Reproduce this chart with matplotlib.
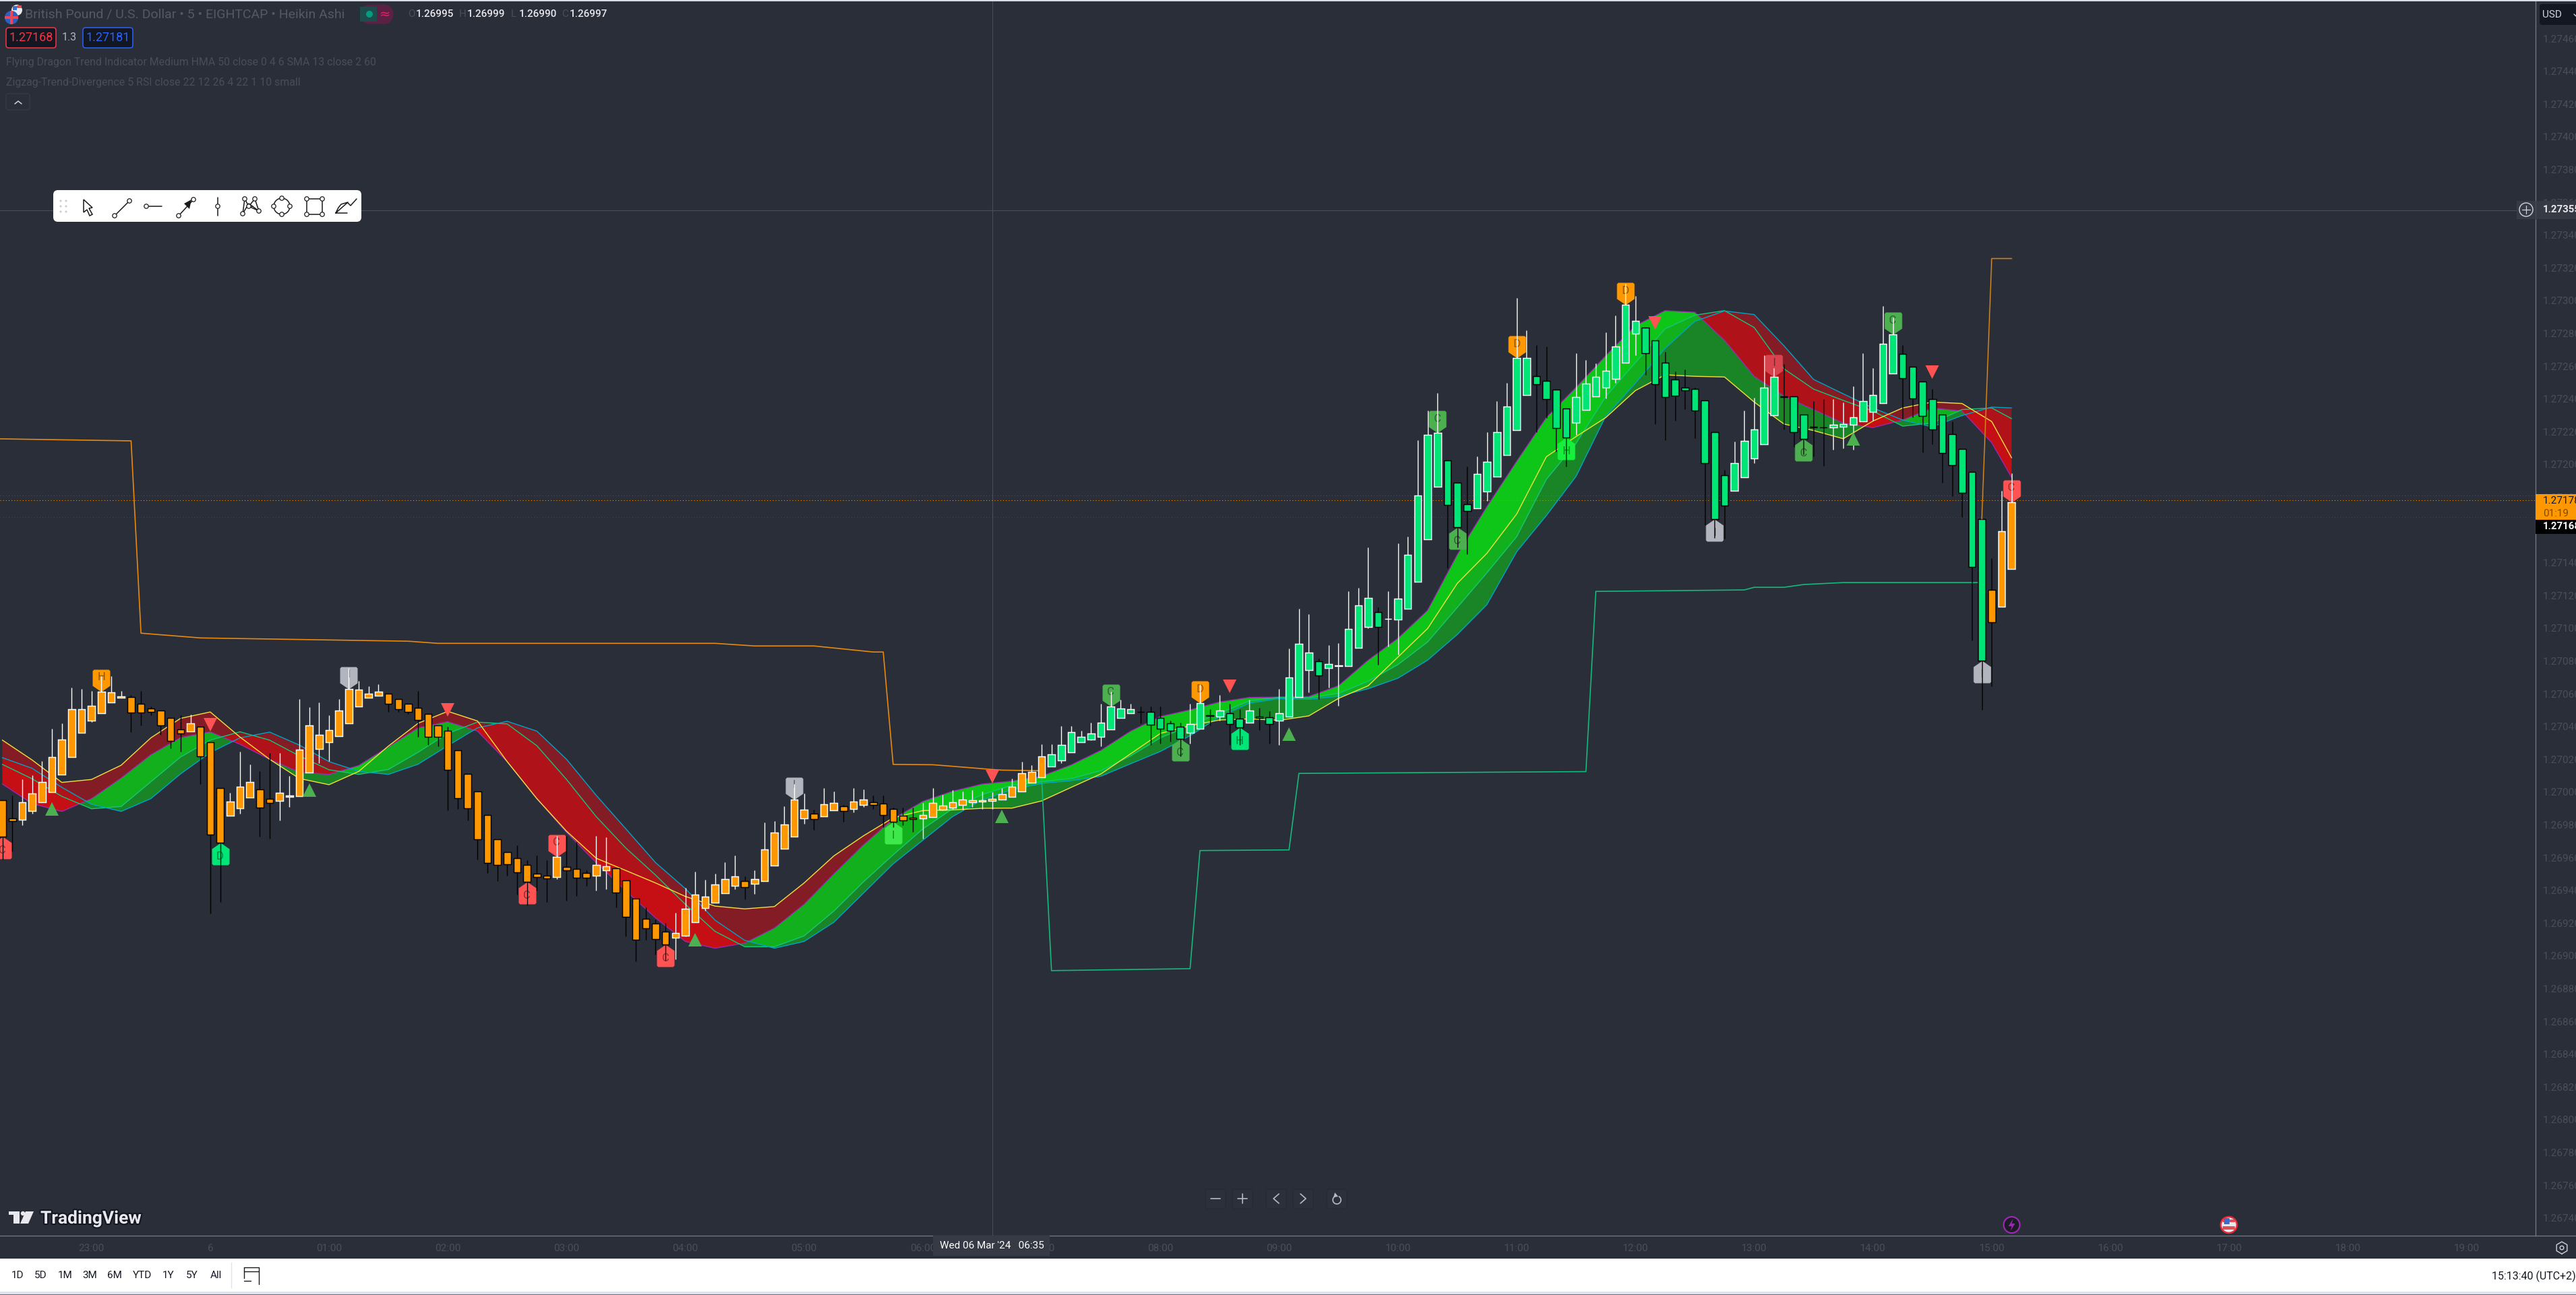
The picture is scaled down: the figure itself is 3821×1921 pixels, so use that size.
"""
GBP/USD 5 min Heikin Ashi chart with trend cloud and zigzag lines, dark theme.
"""
import numpy as np
import matplotlib
matplotlib.use("Agg")
import matplotlib.pyplot as plt
from matplotlib.patches import Rectangle, FancyBboxPatch, Circle, Polygon
from matplotlib.path import Path
import matplotlib.patheffects as pe

plt.rcParams["font.family"] = ["Roboto", "DejaVu Sans"]

BG = "#2a2e39"
DIM = "#4a4e5a"
AXIS_LINE = "#787b86"
W, H = 3821, 1921

# all series are in points (0.00001) above 1.27000
BASE = 1.27

open_pts = [
    -4.8, -16.0, -16.8, -11.4, -6.1, 0.1, 10.8, 21.5, 36.4, 43.4,
    48.3, 54.9, 57.8, 58.2, 53.7, 51.2, 49.9, 45.4, 38.4, 37.2,
    39.7, 30.6, 2.6, -14.3, -9.8, -3.2, 1.8, -4.0, -5.2, -2.8,
    -2.4, 12.1, 26.5, 30.6, 34.3, 42.1, 52.4, 57.8, 59.0, 60.2,
    56.9, 53.7, 51.6, 47.9, 40.9, 37.6, 25.6, 11.2, 0.5, -13.9,
    -28.7, -36.5, -40.3, -44.4, -49.7, -51.0, -51.8, -45.6, -46.8, -49.3,
    -51.0, -47.7, -46.4, -53.9, -65.0, -77.3, -80.2, -85.2, -88.9, -87.6,
    -79.4, -70.7, -67.4, -61.7, -57.1, -54.3, -55.9, -54.3, -44.8, -34.5,
    -27.1, -16.0, -13.1, -14.7, -11.0, -8.5, -10.2, -7.7, -6.1, -6.9,
    -10.2, -14.3, -15.5, -16.0, -15.1, -10.6, -9.4, -7.7, -6.1, -5.7,
    -5.2, -4.4, -2.8, 0.5, 5.9, 9.2, 15.8, 19.5, 24.4, 30.6,
    32.2, 33.9, 38.4, 45.4, 48.3, 49.1, 49.1, 45.4, 42.1, 40.1,
    36.4, 38.8, 46.7, 46.2, 48.3, 45.0, 42.5, 46.2, 45.8, 43.8,
    46.1, 58.1, 74.6, 80.0, 75.7, 77.1, 77.0, 88.1, 101.0, 110.0,
    105.8, 105.4, 112.0, 128.2, 154.4, 186.3, 202.6, 188.7, 175.6, 173.4,
    183.7, 192.7, 205.9, 220.8, 242.5, 253.8, 251.2, 245.5, 234.1, 225.3,
    233.2, 241.4, 247.1, 252.1, 262.0, 279.7, 283.4, 275.6, 262.0, 251.7,
    246.8, 246.0, 239.2, 219.9, 193.3, 184.0, 192.3, 203.6, 212.2, 229.9,
    241.4, 241.4, 230.6, 223.2, 222.7, 222.5, 223.2, 224.2, 226.2, 232.2,
    237.4, 255.4, 267.4, 259.8, 250.5, 239.8, 230.6, 218.6, 209.3, 195.6,
    166.8, 123.6, 113.3, 136.4,
]
close_pts = [
    -27.1, -17.6, -6.1, -0.7, 6.3, 21.5, 32.2, 50.8, 50.8, 52.8,
    61.5, 60.7, 58.6, 48.7, 48.7, 49.1, 40.9, 31.4, 35.9, 42.1,
    21.9, -25.8, -30.8, -5.7, 3.4, 6.3, -9.4, -6.5, -0.3, -1.9,
    26.1, 40.9, 35.1, 38.0, 49.9, 63.1, 62.7, 60.2, 61.5, 53.7,
    50.4, 49.1, 44.2, 33.9, 33.9, 13.7, -3.6, -9.8, -28.7, -43.1,
    -44.4, -44.0, -48.9, -54.7, -51.8, -52.6, -39.4, -47.7, -52.2, -52.2,
    -44.4, -45.2, -61.3, -76.1, -90.1, -83.1, -89.7, -93.0, -86.0, -71.2,
    -62.5, -63.7, -56.3, -53.0, -51.4, -58.0, -53.0, -34.9, -24.6, -19.7,
    -4.4, -10.6, -16.4, -7.3, -6.5, -11.4, -5.7, -4.4, -7.7, -13.9,
    -18.0, -17.2, -16.4, -13.9, -6.5, -8.1, -6.1, -4.4, -4.8, -4.8,
    -4.0, -1.1, 3.4, 11.6, 12.5, 21.9, 23.2, 28.9, 36.8, 33.9,
    35.9, 42.5, 52.4, 51.2, 50.4, 49.0, 41.3, 38.8, 37.6, 32.6,
    41.7, 54.1, 46.5, 49.9, 41.7, 39.6, 49.9, 45.4, 41.7, 48.3,
    70.0, 90.6, 85.3, 71.3, 78.3, 77.2, 99.7, 113.8, 118.6, 101.0,
    105.9, 118.2, 144.7, 180.9, 217.9, 219.2, 175.1, 161.8, 171.4, 194.2,
    201.5, 219.6, 235.2, 264.8, 264.8, 248.8, 239.8, 222.0, 216.6, 241.1,
    249.5, 253.4, 257.1, 272.0, 297.5, 287.6, 267.7, 248.8, 241.1, 241.8,
    245.1, 232.8, 201.0, 166.6, 174.7, 201.0, 214.2, 221.2, 247.1, 253.4,
    241.3, 219.6, 215.5, 222.5, 222.5, 224.2, 224.5, 228.6, 238.5, 242.2,
    273.6, 279.3, 252.5, 240.5, 229.5, 221.2, 206.9, 199.7, 182.6, 137.5,
    80.3, 103.5, 159.1, 177.1,
]
high_pts = [
    -4.8, -2.2, 7.7, 10.4, 18.8, 38.5, 41.8, 63.7, 62.9, 61.6,
    70.8, 70.7, 61.6, 59.4, 61.6, 52.4, 49.9, 45.4, 46.7, 47.5,
    39.7, 30.6, 2.6, -0.6, 24.5, 16.7, 12.6, 23.7, 23.7, 9.7,
    56.7, 51.7, 54.6, 46.8, 56.7, 75.6, 67.8, 64.5, 65.7, 60.2,
    56.9, 53.7, 61.6, 47.9, 40.9, 39.8, 25.6, 11.2, 0.5, -13.9,
    -28.7, -36.5, -32.4, -41.5, -38.6, -41.5, -26.7, -26.7, -30.4, -47.7,
    -26.7, -27.5, -46.4, -53.9, -65.0, -70.3, -77.7, -79.8, -73.6, -58.4,
    -48.5, -53.4, -49.7, -42.7, -38.6, -51.4, -47.7, -18.4, -17.6, -8.5,
    4.9, -0.7, -10.6, 2.6, 0.5, -7.7, 2.6, 1.5, -2.2, -2.2,
    -9.4, -9.4, -9.4, -6.5, 2.6, -1.5, 1.3, 0.5, 1.3, 0.5,
    0.1, 2.6, 8.3, 18.6, 16.6, 29.4, 29.4, 40.5, 40.5, 37.6,
    42.5, 53.7, 61.2, 56.5, 53.7, 52.4, 52.4, 52.4, 43.4, 42.5,
    53.7, 65.7, 50.4, 59.4, 53.7, 50.4, 56.5, 51.6, 49.5, 62.9,
    87.5, 111.8, 108.5, 81.6, 89.5, 90.8, 122.6, 124.7, 149.5, 112.7,
    122.6, 151.9, 155.9, 214.8, 233.0, 243.6, 202.6, 188.7, 198.8, 205.0,
    219.7, 238.7, 249.9, 301.8, 281.9, 272.7, 272.1, 245.5, 234.1, 267.9,
    263.9, 261.8, 280.8, 291.1, 310.4, 303.0, 283.4, 275.6, 268.8, 256.9,
    258.2, 246.8, 239.2, 219.9, 196.8, 214.0, 233.0, 240.7, 266.8, 258.9,
    261.1, 241.4, 230.6, 238.7, 239.8, 240.0, 238.0, 247.9, 267.9, 258.9,
    296.8, 289.8, 272.9, 259.8, 250.5, 245.9, 230.6, 226.2, 209.3, 195.6,
    166.8, 142.7, 183.9, 194.7,
]
low_pts = [
    -41.1, -36.3, -20.2, -13.2, -6.1, 0.1, 10.8, 21.5, 36.4, 42.7,
    48.3, 54.9, 57.8, 36.6, 40.7, 46.9, 35.0, 26.7, 24.7, 37.2,
    4.9, -74.0, -67.2, -14.3, -13.2, -3.2, -27.1, -28.3, -17.3, -9.1,
    -2.4, 12.1, 17.8, 18.9, 34.3, 42.1, 52.4, 57.8, 59.0, 49.0,
    49.0, 47.8, 33.7, 28.8, 28.0, -11.2, -10.3, -17.3, -41.1, -49.5,
    -54.4, -51.1, -62.4, -69.2, -60.0, -67.2, -53.0, -66.3, -63.5, -57.3,
    -60.2, -59.3, -70.5, -88.2, -103.3, -90.1, -99.2, -102.9, -102.2, -88.0,
    -79.4, -72.5, -67.4, -61.7, -59.3, -65.5, -62.2, -54.3, -44.8, -34.5,
    -27.1, -19.4, -23.0, -14.7, -11.0, -18.0, -12.4, -9.1, -10.3, -21.3,
    -21.3, -20.1, -24.3, -28.5, -15.1, -11.0, -10.2, -10.6, -9.1, -10.3,
    -10.2, -4.4, -2.8, 0.5, 5.9, 9.2, 15.8, 17.5, 24.4, 30.6,
    31.5, 28.0, 38.4, 45.4, 48.3, 42.0, 28.8, 29.6, 30.9, 21.8,
    29.6, 38.8, 40.7, 43.4, 28.8, 28.8, 42.5, 37.9, 29.6, 28.8,
    46.1, 58.1, 61.0, 56.8, 63.8, 52.8, 77.0, 88.1, 99.8, 77.8,
    88.8, 83.8, 112.0, 128.2, 154.4, 186.3, 136.8, 149.5, 145.1, 173.4,
    177.8, 192.7, 205.9, 220.8, 242.5, 219.9, 228.2, 208.0, 198.8, 217.9,
    233.2, 241.4, 240.2, 249.9, 262.0, 266.8, 254.9, 224.7, 215.0, 226.7,
    233.7, 215.9, 163.1, 155.0, 154.8, 184.0, 192.3, 200.8, 212.2, 229.9,
    221.2, 210.7, 206.0, 205.0, 199.0, 208.9, 210.0, 208.9, 226.2, 226.7,
    237.4, 255.4, 228.0, 228.8, 207.2, 212.2, 189.0, 180.6, 167.9, 92.7,
    50.0, 64.7, 113.3, 136.4,
]

# cloud lines, read every third bar
cloud_idx = list(range(0, 202, 3)) + [203]
yellow_pts = [
    31.7, 19.6, 5.9, 7.7, 16.4, 33.1, 45.0, 48.9, 33.6, 20.0,
    8.3, 4.5, 12.6, 28.1, 42.0, 49.3, 43.4, 18.6, -4.0, -23.9,
    -40.4, -47.9, -55.5, -63.7, -69.6, -71.3, -69.9, -55.5, -39.0, -26.7,
    -15.7, -11.3, -10.9, -9.9, -9.8, -5.4, 2.9, 11.1, 23.4, 35.8,
    40.6, 44.0, 44.7, 43.8, 46.5, 57.2, 64.9, 82.4, 99.8, 127.4,
    145.8, 169.7, 204.7, 217.0, 228.6, 245.1, 254.7, 253.8, 253.4, 238.1,
    224.7, 220.7, 215.7, 226.5, 234.5, 238.1, 237.2, 226.2, 204.1,
]
purple_pts = [
    4.9, -7.0, -11.8, -4.0, 8.6, 22.8, 33.3, 36.8, 29.2, 20.0,
    12.2, 10.8, 16.2, 27.6, 39.2, 43.0, 37.2, 18.6, -4.0, -24.6,
    -43.1, -60.3, -76.8, -91.2, -95.3, -92.2, -83.0, -68.5, -50.0, -32.2,
    -16.4, -5.7, 0.5, 4.9, 6.7, 9.7, 16.6, 25.5, 37.2, 46.1,
    50.2, 55.0, 57.8, 58.0, 58.3, 64.9, 80.5, 93.8, 110.9, 144.9,
    174.3, 201.9, 228.6, 247.0, 266.3, 284.7, 293.9, 292.9, 275.8, 253.8,
    241.8, 233.5, 225.3, 222.5, 227.1, 234.5, 232.6, 213.3, 192.2,
]
teal_pts = [
    16.9, 8.1, -2.6, -10.2, -8.8, 6.3, 21.4, 31.7, 36.8, 31.7,
    22.1, 13.6, 10.8, 13.8, 24.3, 35.8, 42.7, 41.6, 28.3, 7.7,
    -15.0, -34.2, -50.7, -68.5, -85.0, -94.4, -94.4, -87.8, -72.7, -54.8,
    -38.3, -22.5, -10.2, -1.5, 4.2, 6.3, 8.3, 13.1, 22.1, 33.1,
    40.6, 48.2, 55.7, 57.8, 57.5, 60.3, 67.7, 77.8, 91.6, 112.7,
    133.9, 155.9, 190.9, 212.9, 241.4, 262.2, 282.8, 291.1, 293.9, 283.6,
    258.4, 246.0, 239.1, 232.6, 223.4, 225.3, 233.5, 234.5, 228.0,
]
cyan_pts = [
    21.0, 14.5, 2.9, -7.4, -11.8, -4.0, 11.1, 24.1, 33.1, 36.6,
    28.7, 18.6, 12.7, 10.8, 17.0, 28.3, 39.2, 43.2, 37.2, 20.0,
    -2.0, -22.5, -43.1, -58.9, -78.2, -90.5, -95.3, -91.2, -79.5, -61.7,
    -43.8, -29.4, -15.0, -4.7, 1.5, 5.3, 7.0, 9.7, 17.3, 24.8,
    34.4, 46.1, 54.3, 57.1, 56.6, 58.5, 63.1, 69.5, 80.5, 96.2,
    114.5, 146.7, 168.8, 192.7, 229.5, 249.7, 270.9, 287.4, 293.7, 291.5,
    272.5, 251.9, 243.1, 234.5, 227.1, 222.9, 229.9, 235.0, 234.5,
]

# zigzag step lines
zig_orange_idx = [-1, 13, 14, 20, 41, 44, 72, 76, 82, 88, 89, 90, 94, 100, 101, 105]
zig_orange_pts = [215.7, 214.4, 97.0, 94.1, 92.1, 90.8, 90.8, 89.2, 89.2, 85.5, 85.5,
                  16.9, 16.7, 13.8, 13.4, 13.0]
zig_green_idx = [105, 106, 120, 121, 130, 131, 160, 161, 176, 177, 180, 182, 186, 200]
zig_green_pts = [9.0, -109.0, -107.8, -35.7, -35.3, 11.4, 12.5, 122.5, 123.4, 125.0,
                 125.0, 126.7, 127.9, 127.9]
zig_last_idx = [200, 201, 203]
zig_last_pts = [166.8, 325.7, 325.7]

# pivot labels
pin_idx = [0, 10, 22, 35, 53, 56, 67, 80, 90, 112, 119, 121, 125, 145, 147, 153,
           158, 164, 173, 179, 182, 191, 200, 203]
pin_above = [0, 1, 0, 1, 0, 1, 0, 1, 0, 1, 0, 1, 0, 1, 0, 1, 0, 1, 0, 1, 0, 1, 0, 1]
pin_text = ["C", "H", "D", "I", "C", "C", "C", "I", "I", "C", "C", "D", "H", "C",
            "C", "D", "H", "D", "I", "I", "C", "C", "I", "C"]
pin_color = ["#ff5252", "#ff9800", "#00e676", "#b2b5be", "#ff5252", "#ff5252", "#ff5252",
             "#b2b5be", "#3fe84a", "#4caf50", "#4caf50", "#ff9800", "#00e676", "#4caf50",
             "#4caf50", "#ff9800", "#14f03c", "#ff9800", "#b2b5be", "#d9434e", "#4caf50",
             "#4caf50", "#b2b5be", "#ff5252"]

# trend flip triangles
tri_down_idx = [21, 45, 100, 124, 167, 195]
tri_down_pts = [41.3, 50.2, 9.3, 64.4, 286.3, 256.5]
tri_up_idx = [5, 31, 70, 101, 130, 187]
tri_up_pts = [-10.2, 1.3, -90.0, -15.0, 35.5, 215.7]

# axis labels
price_ticks = [round(1.2674 + 0.0002 * k, 4) for k in range(37)]
time_ticks = [9, 21] + [33 + 12 * k for k in range(19)]
time_labels = ["23:00", "6"] + [f"{h:02d}:00" for h in range(1, 20)]

GREEN = "#0cdc15"
RED = "#dc0c10"


def price(pts):
    return BASE + np.asarray(pts, dtype=float) * 1e-5


def pin_path():
    # tip at the origin, label body above it (units are pixels)
    verts = [(0, 0), (-13, 9), (-13, 31), (-11, 33), (11, 33), (13, 31), (13, 9), (0, 0)]
    return Path(verts, closed=True)


def draw_candles(ax, o, c, hi, lo):
    idx = np.arange(len(o))
    up = c > o
    fills = ["#00e676" if 106 <= i <= 200 else "#ff9800" for i in idx]
    edges = ["white" if u else "black" for u in up]
    ax.vlines(idx, lo, hi, colors=edges, linewidth=1.0, zorder=4)
    ax.bar(idx, np.maximum(np.abs(c - o), 1e-6), bottom=np.minimum(o, c), width=0.72,
           color=fills, edgecolor=edges, linewidth=1.05, zorder=5)


def draw_cloud(ax):
    x = np.array(cloud_idx, dtype=float)
    yl, pu, te, cy = map(price, (yellow_pts, purple_pts, teal_pts, cyan_pts))
    for top, other in ((pu, te), (pu, cy), (pu, yl)):
        ax.fill_between(x, top, other, where=top >= other, interpolate=True,
                        color=GREEN, alpha=0.5, linewidth=0, zorder=2)
        ax.fill_between(x, top, other, where=top <= other, interpolate=True,
                        color=RED, alpha=0.5, linewidth=0, zorder=2)
    ax.plot(x, pu, color="#9c27b0", lw=1.0, zorder=3)
    ax.plot(x, te, color="#12c87a", lw=1.0, zorder=3)
    ax.plot(x, cy, color="#00a5c8", lw=1.0, zorder=3)
    ax.plot(x, yl, color="#f5e13c", lw=1.0, zorder=3)


def draw_pins(ax, o, c):
    base = pin_path()
    flipped = Path(base.vertices * [1, -1], closed=True)
    for i, above, label, col in zip(pin_idx, pin_above, pin_text, pin_color):
        tip = max(o[i], c[i]) if above else min(o[i], c[i])
        ax.plot([i], [tip], marker=base if above else flipped, ms=2 * 33 * 0.72,
                color=col, mew=0, ls="none", zorder=3.5)
        ax.annotate(label, xy=(i, tip), xytext=(0, 15 if above else -15),
                    textcoords="offset points", ha="center", va="center",
                    fontsize=12, color="#00000070", zorder=3.6)


def chrome(ov):
    """Screen furniture drawn in pixel coordinates on a top overlay."""
    def rect(x0, y0, x1, y1, col, z=1):
        ov.add_patch(Rectangle((x0, y0), x1 - x0, y1 - y0, fc=col, ec="none", zorder=z))

    def line(xs, ys, col="#1a1a1a", lw=1.1, z=6):
        ov.plot(xs, ys, color=col, lw=lw, zorder=z, solid_capstyle="round")

    def dot(x, y, r=3.2, fc="white", ec="#1a1a1a", lw=0.9, z=7):
        ov.add_patch(Circle((x, y), r, fc=fc, ec=ec, lw=lw, zorder=z))

    # page edges and bottom toolbar
    rect(0, 0, W, 2, "#d8dbe3")
    rect(0, 1867, W, 1916, "white")
    rect(0, 1916, W, 1920, "#e0e3eb")
    rect(0, 1920, W, H, "#6a6d78")
    ov.plot([3761, W], [1833, 1833], color=AXIS_LINE, lw=0.9, zorder=2)
    range_names = ["1D", "5D", "1M", "3M", "6M", "YTD", "1Y", "5Y", "All"]
    range_x = [26, 60, 97, 133, 170, 211, 250, 285, 320]
    for name, x in zip(range_names, range_x):
        ov.text(x, 1892, name, ha="center", va="center", fontsize=11, color="#131722")
    ov.plot([343, 343], [1873, 1910], color="#e0e3eb", lw=1)
    line([362, 384, 384], [1880, 1880, 1905], lw=1)
    line([362, 362], [1880, 1896], lw=1)
    line([362, 384], [1886, 1886], lw=1)
    line([362, 372], [1900, 1900], lw=1)
    ov.text(3821, 1893, "15:13:40 (UTC+2)", ha="right", va="center", fontsize=11.5,
            color="#131722")

    # legend block, top left
    ov.add_patch(Circle((25, 15), 8, fc="#e8e8ee", ec="none", zorder=3))
    rect(25, 8, 32, 12, "#e05050", 4)
    rect(19, 9, 25, 15, "#3b6fd8", 4)
    ov.add_patch(Circle((17, 26), 10, fc="#2f5fc0", ec="none", zorder=5))
    rect(15, 16, 19, 36, "#e8485a", 6)
    rect(7, 24, 27, 28, "#e8485a", 6)
    ov.text(37, 22, "British Pound / U.S. Dollar • 5 • EIGHTCAP • Heikin Ashi", va="center",
            fontsize=14, color="#565964")
    ov.add_patch(FancyBboxPatch((540, 12), 38, 18, boxstyle="round,pad=0,rounding_size=9",
                                fc="#5a2144", ec="#5a2144", lw=8, zorder=2))
    rect(534, 10, 559, 32, "#1e4b4c", 3)
    ov.add_patch(Circle((548, 21), 5, fc="#089981", ec="none", zorder=4))
    ov.text(571, 21, "≈", ha="center", va="center", fontsize=14, color="#e91e63",
            family=["DejaVu Sans"])
    ohlc_letters = ["O", "H", "L", "C"]
    ohlc_values = ["1.26995", "1.26999", "1.26990", "1.26997"]
    ohlc_x = [605, 681, 758, 833]
    for letter, value, x in zip(ohlc_letters, ohlc_values, ohlc_x):
        ov.text(x, 21, letter, va="center", fontsize=11, color="#4a4e5a")
        ov.text(x + 12, 21, value, va="center", fontsize=11, color="#e8e8ee", weight="medium")
    for x0, x1, col, label in ((9, 83, "#f23645", "1.27168"), (123, 197, "#2962ff", "1.27181")):
        ov.add_patch(FancyBboxPatch((x0 + 2, 43), x1 - x0 - 4, 26, boxstyle="round,pad=2,rounding_size=4",
                                    fc="#131722", ec=col, lw=1.1, zorder=3))
        ov.text((x0 + x1) / 2, 56, label, ha="center", va="center", fontsize=13, color=col, zorder=4)
    ov.text(103, 56, "1.3", ha="center", va="center", fontsize=11.5, color="#b2b5be")
    ov.text(9, 92, "Flying Dragon Trend Indicator Medium HMA 50 close 0 4 6 SMA 13 close 2 60",
            va="center", fontsize=11.45, color="#4a4d58")
    ov.text(9, 122, "Zigzag-Trend-Divergence 5 RSI close 22 12 26 4 22 1 10 small",
            va="center", fontsize=11.45, color="#4a4d58")
    ov.add_patch(FancyBboxPatch((11, 141), 31, 20, boxstyle="round,pad=2,rounding_size=3",
                                fc=BG, ec="#363a45", lw=1))
    line([22, 27, 32], [154, 150, 154], "#d1d4dc", 1.1)

    # drawing toolbar
    ov.add_patch(FancyBboxPatch((85, 288), 445, 35, boxstyle="round,pad=6,rounding_size=7",
                                fc="white", ec="none", zorder=5))
    for gx in (90, 98):
        for gy in (298, 306, 314):
            dot(gx, gy, 1.5, "#c8cad0", "none", 0)
    ov.add_patch(Polygon([(124, 296), (137, 308), (132, 309), (137, 318), (133, 320),
                          (129, 311), (124, 315)], closed=True, fc="white", ec="#1a1a1a",
                         lw=1.1, zorder=6))
    line([170, 192], [320, 298]); dot(170, 320); dot(192, 298)
    line([217, 240], [306, 306]); dot(217, 306)
    line([265, 287], [320, 296]); dot(265, 320); dot(287, 296)
    ov.add_patch(Polygon([(284, 296), (273, 302), (281, 310)], closed=True, fc="#1a1a1a", ec="none", zorder=7))
    line([323, 323], [293, 320]); dot(323, 306)
    pts_x = [360, 363, 369, 378, 384, 369, 375]
    pts_y = [317, 295, 306, 295, 313, 306, 306]
    line(pts_x, pts_y)
    line([360, 369, 384], [317, 302, 313])
    for px, py in zip(pts_x[:5], pts_y[:5]):
        dot(px, py)
    ov.add_patch(Circle((418, 306), 12, fc="none", ec="#1a1a1a", lw=1.1, zorder=6))
    for dx, dy in ((0, -12), (0, 12), (-12, 0), (12, 0)):
        dot(418 + dx, 306 + dy)
    ov.add_patch(Rectangle((455, 295), 23, 23, fc="none", ec="#1a1a1a", lw=1.1, zorder=6))
    for dx, dy in ((455, 295), (478, 295), (455, 318), (478, 318)):
        dot(dx, dy)
    line([498, 516, 506, 502, 498, 515], [316, 300, 303, 308, 316, 316])
    line([516, 520, 529], [301, 305, 295])

    # bottom chart controls and logo
    ctrl_x = [1803, 1843, 1893, 1933, 1983]
    for cx in ctrl_x:
        ov.add_patch(FancyBboxPatch((cx - 13, 1766), 26, 25, boxstyle="round,pad=2,rounding_size=4",
                                    fc="#2c303b", ec="#272a34", lw=1))
    c_col = "#b8bbc6"
    line([1796, 1810], [1778, 1778], c_col, 1.2)
    line([1836, 1850], [1778, 1778], c_col, 1.2)
    line([1843, 1843], [1771, 1785], c_col, 1.2)
    line([1897, 1889, 1897], [1771, 1778, 1785], c_col, 1.2)
    line([1929, 1937, 1929], [1771, 1778, 1785], c_col, 1.2)
    theta = np.linspace(-1.0, 4.2, 30)
    line(1983 + 6 * np.cos(theta), 1780 + 6 * np.sin(theta), c_col, 1.2)
    ov.add_patch(Polygon([(1980, 1769), (1985, 1775), (1978, 1776)], closed=True, fc=c_col, ec="none", zorder=7))
    effect = [pe.withStroke(linewidth=3, foreground="#131722")]
    logo = ov.text(60, 1808, "TradingView", va="center", fontsize=19, weight="bold",
                   color="#e8e8ee", path_effects=effect)
    logo.set_zorder(4)
    rect(13, 1797, 29, 1802, "#e8e8ee", 4)
    rect(20, 1797, 29, 1815, "#e8e8ee", 4)
    ov.add_patch(Circle((34, 1800), 3.2, fc="#e8e8ee", ec="none", zorder=4))
    ov.add_patch(Polygon([(38, 1797), (50, 1797), (42, 1815), (30, 1815)], closed=True,
                         fc="#e8e8ee", ec="none", zorder=4))

    # event icons on the time line
    ov.add_patch(Circle((2984, 1817), 12, fc="#1c1c28", ec="#9c27b0", lw=1.6))
    ov.add_patch(Polygon([(2986, 1808), (2979, 1819), (2984, 1819), (2982, 1826), (2989, 1815),
                          (2984, 1815)], closed=True, fc="#9c27b0", ec="none", zorder=5))
    ov.add_patch(Circle((3306, 1817), 12, fc="#e8e8ee", ec="#e8293a", lw=1.8))
    rect(3297, 1809, 3315, 1813, "#e05050", 4)
    rect(3297, 1819, 3315, 1824, "#e05050", 4)
    rect(3299, 1807, 3307, 1816, "#3f6cc8", 5)

    # crosshair labels
    rect(1384, 1833, 1557, 1863, "#363a45", 5)
    ov.text(1471, 1848, "Wed 06 Mar '24   06:35", ha="center", va="center", fontsize=11,
            color="white", zorder=6)
    rect(3733, 298, W, 325, "#363a45", 3)
    ov.plot([3761, 3761], [298, 325], color="#4a4e5a", lw=0.8, zorder=4)
    ov.add_patch(Circle((3747, 311), 10, fc="none", ec="#d1d4dc", lw=1, zorder=4))
    line([3741, 3753], [311, 311], "#d1d4dc", 0.9)
    line([3747, 3747], [305, 317], "#d1d4dc", 0.9)
    ov.text(3772, 311, "1.27355", va="center", fontsize=10.8, weight="bold", color="#e8e8ee", zorder=5)

    # price scale flags
    ov.add_patch(FancyBboxPatch((3769, 8), 70, 27, boxstyle="round,pad=2,rounding_size=4",
                                fc="#131722", ec="none", zorder=3, clip_on=True))
    ov.text(3771, 22, "USD", va="center", fontsize=11, color="#d1d4dc", zorder=4)
    line([3818, 3821], [21, 24], "#d1d4dc", 1)
    rect(3761, 733, W, 771, "#ff9800", 3)
    ov.text(3772, 743, "1.27178", va="center", fontsize=11, color="#131722", zorder=4)
    ov.text(3772, 762, "01:19", va="center", fontsize=11, color="#7a4d00", zorder=4)
    rect(3761, 771, W, 792, "black", 3)
    ov.text(3772, 781, "1.27168", va="center", fontsize=10.8, weight="bold", color="white", zorder=4)
    hex_t = np.linspace(0, 2 * np.pi, 7)
    line(3800 + 9 * np.sin(hex_t), 1851 + 9 * np.cos(hex_t), "#d1d4dc", 1)
    ov.add_patch(Circle((3800, 1851), 2.8, fc="none", ec="#d1d4dc", lw=1, zorder=6))


fig = plt.figure(figsize=(W / 100, H / 100), dpi=100, facecolor=BG)
ax = fig.add_axes([0, (H - 1833) / H, 3761 / W, (1833 - 2) / H], facecolor=BG)

o, c, hi, lo = map(price, (open_pts, close_pts, high_pts, low_pts))

# crosshair and last price lines sit under everything
ax.axvline(100, color="#4a4e5a", lw=0.8, zorder=1)
ax.axhline(1.27355, color="#4a4e5a", lw=0.8, zorder=1)
ax.axhline(1.27181, color="#a8293a", lw=0.75, ls=(0, (1, 3)), zorder=1)
ax.axhline(1.27178, color="#ff9800", lw=0.75, ls=(0, (1, 3)), zorder=1)
ax.axhline(1.27168, color="#4a2fc0", lw=0.75, ls=(0, (1, 3)), zorder=1)

draw_cloud(ax)
ax.plot(zig_orange_idx, price(zig_orange_pts), color="#e8890c", lw=1.2, zorder=3)
ax.plot(zig_green_idx, price(zig_green_pts), color="#14b87a", lw=1.2, zorder=3)
ax.plot(zig_last_idx, price(zig_last_pts), color="#c97f1a", lw=1.2, zorder=6)
draw_pins(ax, o, c)
draw_candles(ax, o, c, hi, lo)
ax.plot(tri_down_idx, price(tri_down_pts), ls="none", marker="v", ms=14.5, color="#ff5252",
        mew=0, zorder=6)
ax.plot(tri_up_idx, price(tri_up_pts), ls="none", marker="^", ms=14.5, color="#4caf50",
        mew=0, zorder=6)

ax.set_xlim(-0.245, 255.95)
ax.set_ylim(BASE - 270.8e-5, BASE + 482.7e-5)
ax.yaxis.tick_right()
ax.set_yticks(price_ticks, [f"{p:.5f}" for p in price_ticks])
ax.set_xticks(time_ticks, time_labels)
ax.tick_params(axis="y", length=0, pad=8, labelsize=11, labelcolor=DIM)
ax.tick_params(axis="x", length=0, pad=9, labelsize=11, labelcolor=DIM)
for name in ("top", "left"):
    ax.spines[name].set_visible(False)
for name in ("right", "bottom"):
    ax.spines[name].set_color(AXIS_LINE)
    ax.spines[name].set_linewidth(0.9)

ov = fig.add_axes([0, 0, 1, 1], zorder=10)
ov.set_xlim(0, W)
ov.set_ylim(H, 0)
ov.axis("off")
ov.patch.set_visible(False)
chrome(ov)

fig.savefig("out.png", dpi=100, facecolor=BG)
